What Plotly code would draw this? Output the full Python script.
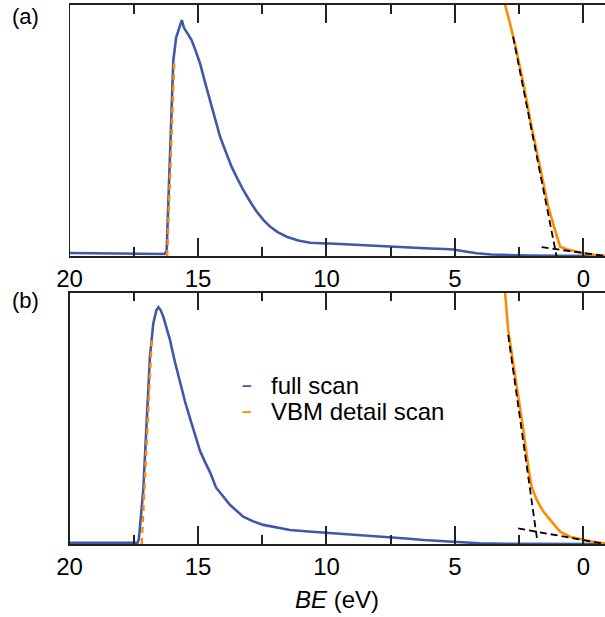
import plotly.graph_objects as go

# ---------------- data (binding energy in eV, normalized intensity) ----------------
full_a_be = [20, 19, 18, 17, 16.4, 16.30, 16.22, 16.10, 15.96, 15.85, 15.72, 15.63, 15.55, 15.45,
             15.25, 15.1, 14.92, 14.72, 14.53, 14.33, 14.14, 13.9, 13.69, 13.45, 13.24, 12.98,
             12.72, 12.45, 12.2, 11.9, 11.55, 11.1, 10.64, 10.0, 9.87, 8.7, 7.53, 6.5, 5.97, 5.4,
             5.07, 4.6, 4.16, 3.6, 3.12, 2.08, 1.0, -0.84]
full_a_int = [0.012, 0.011, 0.009, 0.008, 0.008, 0.008, 0.02, 0.35, 0.78, 0.87, 0.915, 0.94, 0.91,
              0.895, 0.86, 0.82, 0.767, 0.69, 0.62, 0.545, 0.475, 0.41, 0.355, 0.305, 0.263, 0.218,
              0.177, 0.143, 0.117, 0.095, 0.077, 0.062, 0.053, 0.05, 0.05, 0.044, 0.037, 0.033,
              0.03, 0.028, 0.026, 0.018, 0.011, 0.006, 0.004, 0.002, 0.001, 0.0]

vbm_a_be = [3.15, 3.05, 2.86, 2.67, 2.34, 2.02, 1.69, 1.37, 1.11, 0.91, 0.65, 0.26, -0.12, -0.84]
vbm_a_int = [1.05, 1.0, 0.927, 0.847, 0.688, 0.515, 0.355, 0.196, 0.104, 0.037, 0.027, 0.017, 0.008, 0.0]

cut_a_be = [16.2, 15.92]
cut_a_int = [0.0, 0.78]
vfit_a_be = [2.74, 1.05]
vfit_a_int = [0.874, 0.0]
base_a_be = [1.63, -0.84]
base_a_int = [0.035, 0.0]

full_b_be = [20, 18, 17.35, 17.30, 17.2, 17.13, 17.0, 16.87, 16.74, 16.62, 16.54, 16.45, 16.35,
             16.09, 15.9, 15.7, 15.5, 15.31, 15.1, 14.92, 14.72, 14.53, 14.3, 13.75, 13.24, 12.85,
             12.46, 11.9, 11.42, 10.7, 9.99, 9.3, 8.57, 7.53, 6.9, 6.23, 5.5, 4.93, 4.03, 3.0, -0.84]
full_b_int = [0.005, 0.005, 0.005, 0.02, 0.12, 0.215, 0.48, 0.745, 0.878, 0.93, 0.942, 0.93, 0.905,
              0.812, 0.725, 0.64, 0.565, 0.5, 0.43, 0.37, 0.325, 0.285, 0.225, 0.155, 0.109, 0.09,
              0.076, 0.064, 0.056, 0.05, 0.045, 0.041, 0.036, 0.029, 0.022, 0.016, 0.011, 0.007,
              0.003, 0.001, 0.0]

vbm_b_be = [3.12, 3.05, 2.93, 2.73, 2.54, 2.34, 2.15, 2.02, 1.82, 1.56, 1.24, 0.91, 0.53, 0.0, -0.38, -0.84]
vbm_b_int = [1.03, 0.998, 0.852, 0.72, 0.587, 0.454, 0.308, 0.228, 0.175, 0.129, 0.089, 0.049,
             0.029, 0.018, 0.009, 0.003]

cut_b_be = [17.19, 16.8]
cut_b_int = [0.0, 0.814]
vfit_b_be = [2.93, 1.80]
vfit_b_int = [0.832, 0.015]
base_b_be = [2.54, -0.84]
base_b_int = [0.062, 0.0]

major_step = 5
minor_step = 2.5
legend_names = ["full scan", "VBM detail scan"]

BLUE = "#3f58aa"
ORANGE = "#ff8c00"
FONT = "Liberation Sans, Arial, Helvetica, sans-serif"

fig = go.Figure()

def add_panel(xa, ya, fbe, fint, vbe, vint, cbe, cint, sbe, sint, bbe, bint):
    fig.add_trace(go.Scatter(x=fbe, y=fint, mode="lines", line=dict(color=BLUE, width=2.6),
                             xaxis=xa, yaxis=ya, showlegend=False))
    fig.add_trace(go.Scatter(x=cbe, y=cint, mode="lines",
                             line=dict(color=ORANGE, width=2.4, dash="6px,5px"),
                             xaxis=xa, yaxis=ya, showlegend=False))
    fig.add_trace(go.Scatter(x=vbe, y=vint, mode="lines", line=dict(color=ORANGE, width=2.6),
                             xaxis=xa, yaxis=ya, showlegend=False))
    fig.add_trace(go.Scatter(x=sbe, y=sint, mode="lines",
                             line=dict(color="black", width=1.8, dash="7px,4px"),
                             xaxis=xa, yaxis=ya, showlegend=False))
    fig.add_trace(go.Scatter(x=bbe, y=bint, mode="lines",
                             line=dict(color="black", width=1.8, dash="7px,4px"),
                             xaxis=xa, yaxis=ya, showlegend=False))

add_panel("x", "y", full_a_be, full_a_int, vbm_a_be, vbm_a_int, cut_a_be, cut_a_int,
          vfit_a_be, vfit_a_int, base_a_be, base_a_int)
add_panel("x2", "y2", full_b_be, full_b_int, vbm_b_be, vbm_b_int, cut_b_be, cut_b_int,
          vfit_b_be, vfit_b_int, base_b_be, base_b_int)

W, H = 605, 617
x_dom = [69.5 / W, 1.0]


def xaxis_cfg(anchor):
    return dict(range=[20, -0.837], showgrid=False, zeroline=False, showline=True,
                linecolor="#222", linewidth=1.5, mirror="allticks", ticks="inside",
                tickmode="linear", tick0=0, dtick=major_step,
                ticklen=18, tickwidth=1.5, tickcolor="#222",
                minor=dict(tickmode="linear", tick0=0, dtick=minor_step, ticks="inside",
                           ticklen=9, tickwidth=1.5, tickcolor="#222", showgrid=False),
                tickfont=dict(family=FONT, size=24, color="black"), automargin=False,
                domain=x_dom, anchor=anchor)


fig.update_layout(
    width=W, height=H,
    margin=dict(l=0, r=0, t=0, b=0),
    plot_bgcolor="white", paper_bgcolor="white",
    showlegend=False,
    xaxis=xaxis_cfg("y"),
    yaxis=dict(domain=[1 - 256 / H, 1 - 5 / H], range=[0, 1], anchor="x", showticklabels=False,
               automargin=False, showline=True, linecolor="#222"),
    xaxis2=xaxis_cfg("y2"),
    yaxis2=dict(domain=[1 - 544 / H, 1 - 292.7 / H], range=[0, 1], anchor="x2",
                showticklabels=False, automargin=False, showline=True, linecolor="#222",
                linewidth=1.5, showgrid=False, zeroline=False),
)

# panel labels
fig.add_annotation(text="(a)", x=25 / W, y=1 - 17 / H, xref="paper", yref="paper",
                   xanchor="center", yanchor="middle",
                   showarrow=False, font=dict(family=FONT, size=22, color="black"))
fig.add_annotation(text="(b)", x=25 / W, y=1 - 300 / H, xref="paper", yref="paper",
                   xanchor="center", yanchor="middle",
                   showarrow=False, font=dict(family=FONT, size=22, color="black"))

# axis title
fig.add_annotation(text="<i>BE</i> (eV)", x=(69.5 + 605) / 2 / W, y=1 - 599 / H,
                   xref="paper", yref="paper", xanchor="center", yanchor="middle",
                   showarrow=False, font=dict(family=FONT, size=24, color="black"))

# legend (manual, text only)
for i, (name, col) in enumerate(zip(legend_names, [BLUE, ORANGE])):
    yy = 385 + 26.5 * i
    fig.add_annotation(text="<b>–</b>", x=246 / W, y=1 - yy / H, xref="paper", yref="paper",
                       xanchor="center", yanchor="middle", showarrow=False,
                       font=dict(family=FONT, size=17, color=col))
    fig.add_annotation(text=name, x=269 / W, y=1 - yy / H, xref="paper", yref="paper",
                       xanchor="left", yanchor="middle", showarrow=False,
                       font=dict(family=FONT, size=24, color="black"))

fig.write_html("out.html")
